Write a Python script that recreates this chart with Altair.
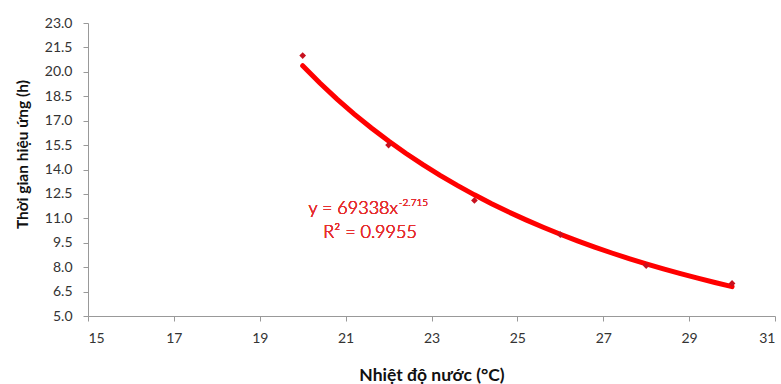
import altair as alt
import pandas as pd

# Data
temperature = [20, 22, 24, 26, 28, 30]
effect_time = [21.0, 15.5, 12.1, 10.0, 8.1, 7.0]

eq_main = "y = 69338x"
eq_exp = "-2.715"
r2_text = "R² = 0.9955"

y_ticks = [5.0, 6.5, 8.0, 9.5, 11.0, 12.5, 14.0, 15.5, 17.0, 18.5, 20.0, 21.5, 23.0]
x_ticks = [15, 17, 19, 21, 23, 25, 27, 29, 31]

df = pd.DataFrame({"t": temperature, "h": effect_time})

FONT = "Lato"
RED_LINE = "#ff0000"
RED_PT = "#c8101e"
RED_TXT = "#e62e2e"

x_scale = alt.Scale(domain=[15, 31], nice=False, zero=False)
y_scale = alt.Scale(domain=[5, 23], nice=False, zero=False)

x_axis = alt.Axis(
    values=x_ticks, tickCount=len(x_ticks) + 5, title="Nhiệt độ nước (°C)", grid=False,
    labelOverlap=False,
    labelFont=FONT, labelFontSize=14, labelColor="#333333", labelPadding=10,
    tickSize=5, tickColor="#999999", domainColor="#999999",
    titleFont=FONT, titleFontSize=17.5, titleFontWeight="bold", titleColor="#111111",
    titleY=59, titleBaseline="middle",
)
y_axis = alt.Axis(
    values=y_ticks, tickCount=len(y_ticks) + 5, format=".1f", title="Thời gian hiệu ứng (h)",
    grid=False, labelOverlap=False, labelBound=False,
    labelFont=FONT, labelFontSize=14, labelColor="#333333", labelPadding=11,
    tickSize=5, tickColor="#999999", domainColor="#999999",
    titleFont=FONT, titleFontSize=15.5, titleFontWeight="bold", titleColor="#111111",
    titleX=-66, titleY=131, titleBaseline="middle",
)

base = alt.Chart(df)

trend = base.transform_regression(
    "t", "h", method="pow", extent=[20, 30]
).mark_line(color=RED_LINE, strokeWidth=5, strokeCap="round").encode(
    x=alt.X("t:Q", scale=x_scale, axis=x_axis),
    y=alt.Y("h:Q", scale=y_scale, axis=y_axis),
)

points = base.mark_point(shape="diamond", filled=True, color=RED_PT, size=45, opacity=1).encode(
    x=alt.X("t:Q", scale=x_scale, axis=x_axis),
    y=alt.Y("h:Q", scale=y_scale, axis=y_axis),
)

t1 = alt.Chart(df).mark_text(
    text=eq_main, font=FONT, fontSize=18, fontWeight=300, color=RED_TXT, align="right", baseline="middle"
).encode(x=alt.datum(22.22), y=alt.datum(11.55))
t2 = alt.Chart(df).mark_text(
    text=eq_exp, font=FONT, fontSize=10, fontWeight=300, color=RED_TXT, align="left", baseline="middle"
).encode(x=alt.datum(22.24), y=alt.datum(11.92))
t3 = alt.Chart(df).mark_text(
    text=r2_text, font=FONT, fontSize=18, fontWeight=300, color=RED_TXT, align="center", baseline="middle"
).encode(x=alt.datum(21.57), y=alt.datum(10.1))

chart = alt.layer(trend, points, t1, t2, t3).properties(
    width=687, height=293,
    autosize=alt.AutoSizeParams(type="none"),
    padding={"left": 88, "top": 23, "right": 6, "bottom": 68},
    background="white",
).configure_view(stroke=None).configure_axis(labelOverlap=False)

chart.save("out.html", embed_options={"renderer": "svg", "actions": False})
